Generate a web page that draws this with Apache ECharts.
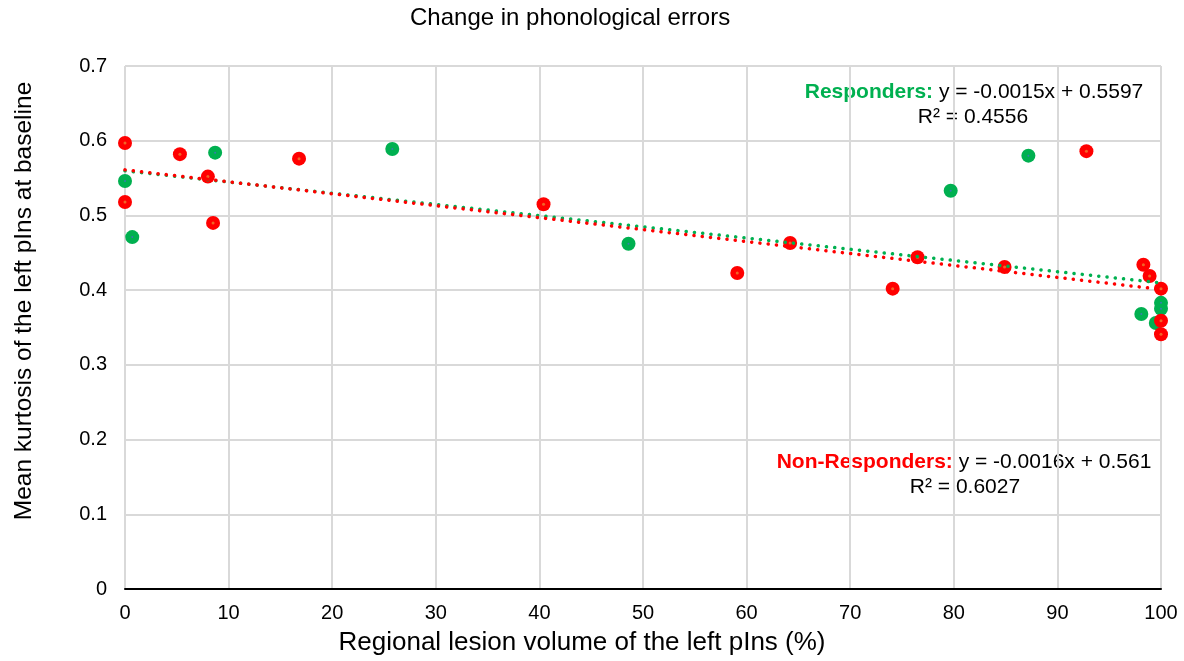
<!DOCTYPE html>
<html>
<head>
<meta charset="utf-8">
<script src="https://cdn.jsdelivr.net/npm/echarts@6/dist/echarts.min.js"></script>
<style>
    html, body {margin: 0; padding: 0; background: #fff;}
    #chart {width: 1184px; height: 661px;}
</style>
</head>
<body>
<div id="chart"></div>
<script>
// responders (green)
var respX = [0, 0.7, 8.7, 25.8, 48.6, 79.7, 87.2, 98.1, 99.5, 100, 100];
var respY = [0.546, 0.471, 0.584, 0.589, 0.462, 0.533, 0.580, 0.368, 0.356, 0.375, 0.383];
// non-responders (red)
var nonX = [0, 0, 5.3, 8.0, 8.5, 16.8, 40.4, 59.1, 64.2, 74.1, 76.5, 84.9, 92.8, 98.3, 98.9, 100, 100, 100];
var nonY = [0.597, 0.518, 0.582, 0.552, 0.490, 0.576, 0.515, 0.423, 0.463, 0.402, 0.444, 0.431, 0.586, 0.434, 0.419, 0.402, 0.359, 0.341];
// linear trend end points
var respTrendX = [0, 100];
var respTrendY = [0.5597, 0.4097];
var nonTrendX = [0, 100];
var nonTrendY = [0.561, 0.401];

var green = '#00B050';
var red = '#FF0000';
var font = '"Liberation Sans", Arial, Helvetica, sans-serif';

function pairs(xs, ys) {
    return xs.map(function (x, i) {
        return [x, ys[i]];
    });
}

var trendStyle = function (color) {
    return {
        type: 'line',
        symbol: 'none',
        silent: true,
        z: 5,
        lineStyle: {
            color: color,
            width: 3.5,
            type: [0.1, 8.2],
            cap: 'round'
        }
    };
};

// plain text helper for the graphic layer
function txt(x, y, text, opts) {
    var style = Object.assign({
        text: text,
        fontFamily: font,
        fontSize: 21,
        fill: '#000',
        align: 'center',
        verticalAlign: 'middle'
    }, opts || {});
    return {type: 'text', x: x, y: y, silent: true, style: style};
}

var option = {
    backgroundColor: '#fff',
    animation: false,
    textStyle: {fontFamily: font},
    grid: {left: 125, right: 23, top: 66, bottom: 72},
    xAxis: {
        type: 'value',
        min: 0,
        max: 100,
        interval: 10,
        axisLine: {show: true, lineStyle: {color: '#000', width: 2}},
        axisTick: {show: false},
        axisLabel: {fontFamily: font, fontSize: 20, color: '#000', margin: 14},
        splitLine: {show: true, lineStyle: {color: '#d9d9d9', width: 2}}
    },
    yAxis: {
        type: 'value',
        min: 0,
        max: 0.7,
        interval: 0.1,
        axisLine: {show: false},
        axisTick: {show: false},
        axisLabel: {fontFamily: font, fontSize: 20, color: '#000', margin: 18},
        splitLine: {show: true, lineStyle: {color: '#d9d9d9', width: 2}}
    },
    series: [
        {
            name: 'Responders',
            type: 'scatter',
            symbolSize: 14,
            z: 2,
            itemStyle: {color: green, opacity: 1},
            data: pairs(respX, respY)
        },
        {
            type: 'scatter',
            symbolSize: 2,
            z: 3,
            silent: true,
            itemStyle: {color: '#4472C4'},
            data: pairs(respX, respY)
        },
        {
            name: 'Non-Responders',
            type: 'scatter',
            symbolSize: 14,
            z: 3,
            itemStyle: {color: red, opacity: 1},
            data: pairs(nonX, nonY)
        },
        {
            type: 'scatter',
            symbolSize: 3,
            z: 4,
            silent: true,
            itemStyle: {color: '#ED7D31'},
            data: pairs(nonX, nonY)
        },
        Object.assign(trendStyle(green), {data: pairs(respTrendX, respTrendY)}),
        Object.assign(trendStyle(red), {data: pairs(nonTrendX, nonTrendY)})
    ],
    graphic: [
        // title
        txt(410, 18, 'Change in phonological errors', {fontSize: 24, align: 'left'}),
        // axis names
        txt(582, 643, 'Regional lesion volume of the left pIns (%)', {fontSize: 26}),
        Object.assign(txt(24, 301, 'Mean kurtosis of the left pIns at baseline', {fontSize: 24.5}), {rotation: Math.PI / 2}),
        // regression notes
        txt(974, 92, '{g|Responders:} y = -0.0015x + 0.5597', {
            rich: {g: {fill: green, fontWeight: 'bold', fontSize: 21, fontFamily: font}}
        }),
        txt(973, 117, 'R² = 0.4556'),
        txt(964, 462, '{r|Non-Responders:} y = -0.0016x + 0.561', {
            rich: {r: {fill: red, fontWeight: 'bold', fontSize: 21, fontFamily: font}}
        }),
        txt(965, 487, 'R² = 0.6027')
    ]
};

var chart = echarts.init(document.getElementById('chart'));
chart.setOption(option);
</script>
</body>
</html>
